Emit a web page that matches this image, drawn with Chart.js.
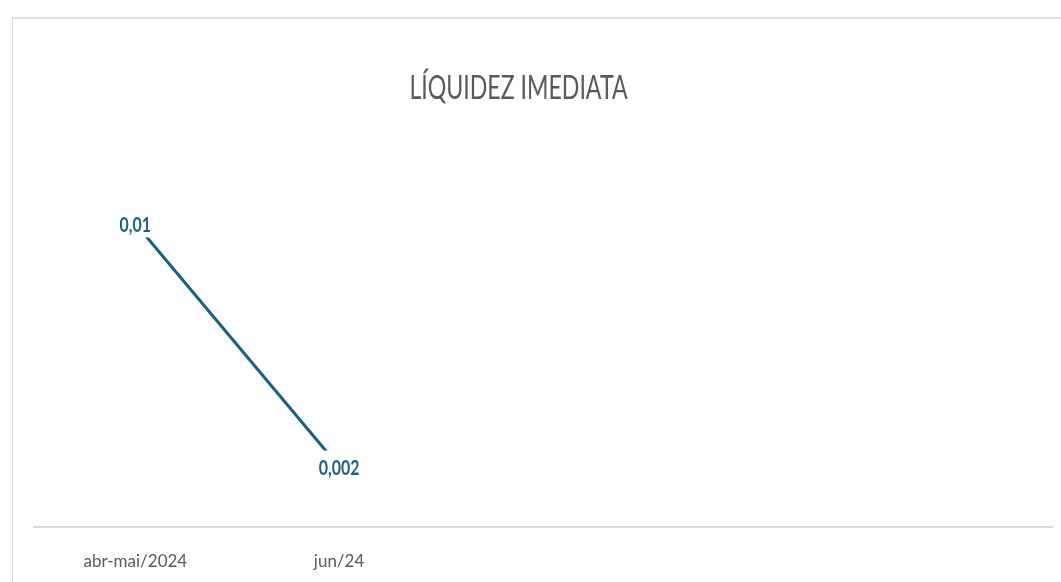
<!DOCTYPE html>
<html>
<head>
<meta charset="utf-8">
<script src="https://cdn.jsdelivr.net/npm/chart.js@4.4.1/dist/chart.umd.min.js"></script>
<style>
html,body{margin:0;padding:0;background:#ffffff;overflow:hidden;width:1061px;height:582px}
#frame{position:absolute;left:12px;top:17px;width:1100px;height:700px;border-left:1px solid #dcdcdc;border-top:2px solid #dcdcdc}
#c{position:absolute;left:0;top:0}
</style>
</head>
<body>
<div id="frame"></div>
<canvas id="c" width="1061" height="600"></canvas>
<script>
const chartTitle = 'LÍQUIDEZ IMEDIATA';
const categories = ['abr-mai/2024', 'jun/24', '', '', ''];
const liquidezValues = [0.01, 0.002, null, null, null];
const yMin = 0;
const yMax = 0.012;

const lineColor = '#1a5f80';
const textGray = '#595959';

function formatValue(v) {
  return String(v).replace('.', ',');
}

const titlePlugin = {
  id: 'condensedTitle',
  afterDraw(chart) {
    const ctx = chart.ctx;
    ctx.save();
    ctx.font = '33.5px Lato';
    ctx.fillStyle = textGray;
    ctx.textAlign = 'center';
    ctx.textBaseline = 'alphabetic';
    ctx.translate(518.5, 98.5);
    ctx.scale(0.69, 1);
    ctx.fillText(chartTitle, 0, 0);
    ctx.restore();
  }
};

const labelPlugin = {
  id: 'valueLabels',
  afterDatasetsDraw(chart) {
    const ctx = chart.ctx;
    const meta = chart.getDatasetMeta(0);
    const ds = chart.data.datasets[0];
    const hs = 0.76;
    ctx.save();
    ctx.font = 'bold 21px Lato';
    meta.data.forEach((pt, i) => {
      const v = ds.data[i];
      if (v === null || v === undefined) return;
      const txt = formatValue(v);
      const w = ctx.measureText(txt).width * hs;
      ctx.fillStyle = '#ffffff';
      ctx.fillRect(pt.x - w / 2 - 4, pt.y - 16, w + 8, 30);
      ctx.save();
      ctx.translate(pt.x, pt.y + 1.5);
      ctx.scale(hs, 1);
      ctx.fillStyle = lineColor;
      ctx.textAlign = 'center';
      ctx.textBaseline = 'middle';
      ctx.fillText(txt, 0, 0);
      ctx.restore();
    });
    ctx.restore();
  }
};

new Chart(document.getElementById('c'), {
  type: 'line',
  data: {
    labels: categories,
    datasets: [{
      label: chartTitle,
      data: liquidezValues,
      borderColor: lineColor,
      backgroundColor: lineColor,
      borderWidth: 3,
      pointRadius: 0,
      pointHoverRadius: 0,
      tension: 0,
      spanGaps: false
    }]
  },
  options: {
    responsive: false,
    animation: false,
    devicePixelRatio: 1,
    layout: { padding: { left: 33.5, right: 9, top: 162.7, bottom: 3.3 } },
    plugins: {
      legend: { display: false },
      title: { display: false },
      tooltip: { enabled: false }
    },
    scales: {
      x: {
        offset: true,
        grid: { display: false, drawTicks: false },
        border: { display: true, color: '#d9d9d9', width: 2 },
        ticks: {
          color: textGray,
          font: { family: 'Lato', size: 17 },
          padding: 24.5,
          maxRotation: 0,
          autoSkip: false
        }
      },
      y: {
        display: false,
        min: yMin,
        max: yMax
      }
    }
  },
  plugins: [titlePlugin, labelPlugin]
});
</script>
</body>
</html>
